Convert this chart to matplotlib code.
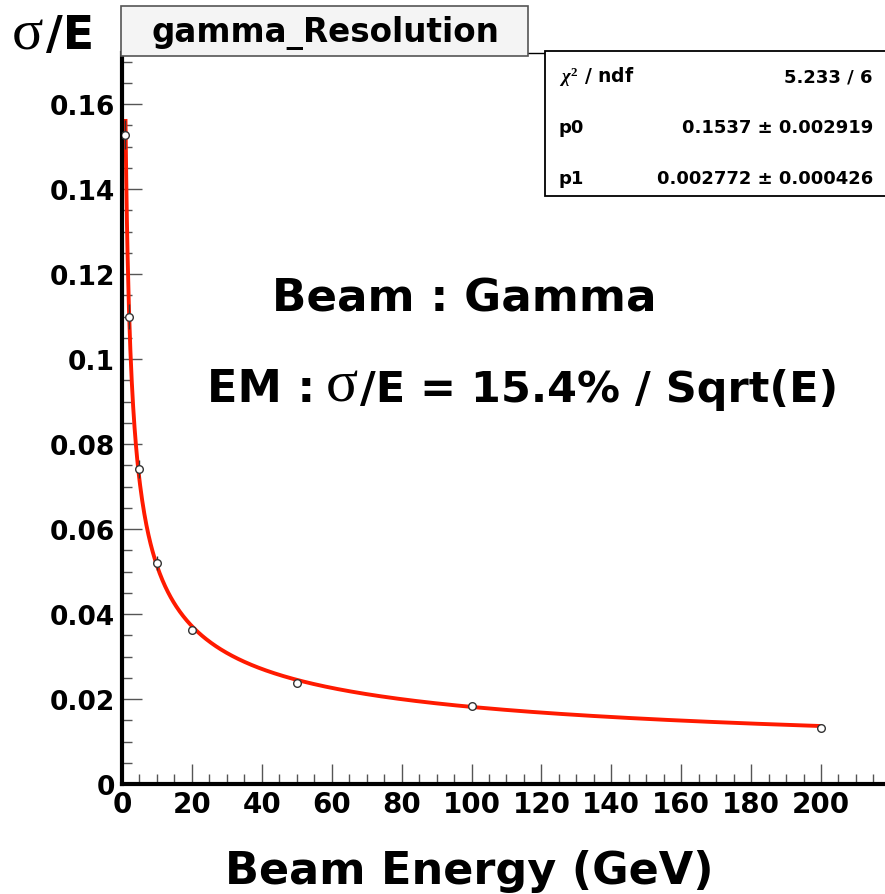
import numpy as np
import matplotlib
matplotlib.use("Agg")
import matplotlib.pyplot as plt
from matplotlib.patches import Rectangle

plt.rcParams["font.family"] = ["DejaVu Sans"]
plt.rcParams["font.weight"] = "bold"
plt.rcParams["mathtext.fontset"] = "custom"
plt.rcParams["mathtext.rm"] = "Liberation Serif"
plt.rcParams["mathtext.it"] = "Liberation Serif:italic"
plt.rcParams["mathtext.bf"] = "Liberation Serif:bold"

# Measured photon energy resolution
energy = [1, 2, 5, 10, 20, 50, 100, 200]                       # GeV
resolution = [0.1528, 0.1100, 0.0742, 0.0520, 0.0362, 0.0237, 0.0184, 0.0131]
res_err = [0.0035, 0.0030, 0.0021, 0.0016, 0.0008, 0.0005, 0.0004, 0.0004]

# Fit: sigma/E = p0/sqrt(E) + p1
p0, p0_err = 0.1537, 0.002919
p1, p1_err = 0.002772, 0.000426
chi2, ndf = 5.233, 6

x_ticks = [0, 20, 40, 60, 80, 100, 120, 140, 160, 180, 200]
y_ticks = [0, 0.02, 0.04, 0.06, 0.08, 0.10, 0.12, 0.14, 0.16]
y_tick_labels = ["0", "0.02", "0.04", "0.06", "0.08", "0.1", "0.12", "0.14", "0.16"]

W, H = 885, 895
fig = plt.figure(figsize=(W / 100, H / 100), dpi=100)
renderer = fig.canvas.get_renderer()


def fx(x):
    return x / W


def fy(y):
    return 1 - y / H


def text_run(x_px, y_px, pieces):
    """Place text pieces one after another on a common baseline (pixel coords)."""
    x = x_px
    for s, gap, props in pieces:
        x += gap
        t = fig.text(fx(x), fy(y_px), s, ha="left", va="baseline", **props)
        x += t.get_window_extent(renderer).width


# frame in pixel coordinates
left_px, right_px, top_px, bottom_px = 122, 885, 54, 785
ax = fig.add_axes([fx(left_px), fy(bottom_px), fx(right_px) - fx(left_px), fy(top_px) - fy(bottom_px)])
px_per_gev = (821 - 122) / 200.0
ax.set_xlim(0, (right_px - left_px) / px_per_gev)
ax.set_ylim(0, (bottom_px - top_px) / 4250.0)

e_fine = np.linspace(1, 200, 1000)
ax.plot(e_fine, p0 / np.sqrt(e_fine) + p1, color="#ff1a00", lw=2.8, zorder=2, solid_capstyle="butt")
ax.errorbar(energy, resolution, yerr=res_err, fmt="o", ms=5.5, mfc="white", mec="#333333",
            mew=1.0, ecolor="#333333", elinewidth=1.0, capsize=0, zorder=3)

ax.set_xticks(x_ticks)
ax.set_xticks(np.arange(0, 220, 5), minor=True)
ax.set_yticks(y_ticks)
ax.set_yticklabels(y_tick_labels)
ax.set_yticks(np.arange(0, 0.171, 0.005), minor=True)
ax.tick_params(which="major", direction="in", length=14.4, width=1.0, color="#555555",
               labelsize=19, pad=5)
ax.tick_params(which="minor", direction="in", length=7.2, width=1.0, color="#555555")
ax.tick_params(axis="x", pad=4, labelsize=20)
for lab in ax.get_xticklabels() + ax.get_yticklabels():
    lab.set_fontweight("bold")

for side in ("left", "bottom"):
    ax.spines[side].set_linewidth(3.0)
    ax.spines[side].set_color("black")
ax.spines["top"].set_linewidth(1.0)
ax.spines["right"].set_visible(False)

# title pave
fig.patches.append(Rectangle((fx(121), fy(57)), fx(528) - fx(121), fy(7) - fy(57),
                             transform=fig.transFigure, facecolor="#f4f4f4",
                             edgecolor="#555555", lw=1.2, zorder=5))
fig.text(fx(325), fy(33), "gamma_Resolution", fontsize=23.5, fontweight="bold",
         ha="center", va="center", zorder=6)

# fit statistics box
fig.patches.append(Rectangle((fx(545), fy(197)), fx(900) - fx(545), fy(52) - fy(197),
                             transform=fig.transFigure, facecolor="white",
                             edgecolor="black", lw=1.3, zorder=5))
rows = [
    (r"$\chi^{2}$ / ndf", f"{chi2:.3f} / {ndf}"),
    ("p0", f"{p0:.4f} ± {p0_err:.6f}"),
    ("p1", f"{p1:.6f} ± {p1_err:.6f}"),
]
for i, (lab, val) in enumerate(rows):
    yy = fy(77 + 51 * i)
    fig.text(fx(559), yy, lab, fontsize=13.5 if i == 0 else 13, fontweight="bold",
             ha="left", va="center", zorder=6)
    fig.text(fx(873), yy, val, fontsize=13, fontweight="bold", ha="right", va="center", zorder=6)

# axis titles and annotations
serif = dict(family="Liberation Serif", fontweight="normal")
sans = dict(fontweight="bold")
text_run(12, 49, [("σ", 0, dict(fontsize=42, **serif)),
                  ("/E", 2, dict(fontsize=33, **sans))])
fig.text(fx(225), fy(884), "Beam Energy (GeV)", fontsize=32, fontweight="bold",
         ha="left", va="baseline")
fig.text(fx(272), fy(312), "Beam : Gamma", fontsize=32.5, fontweight="bold",
         ha="left", va="baseline")
text_run(207, 402, [("EM :", 0, dict(fontsize=32, **sans)),
                    ("σ", 11, dict(fontsize=43, **serif)),
                    ("/E = 15.4% / Sqrt(E)", 2, dict(fontsize=31, **sans))])

fig.savefig("out.png", dpi=100)
